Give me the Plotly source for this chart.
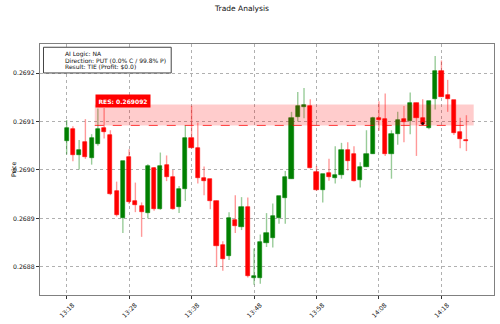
import plotly.graph_objects as go
import pandas as pd

# ---------------- data ----------------
start_time = "2024-01-01 13:18"
n_candles = 65
opens = [0.269059, 0.269084, 0.269030, 0.269057, 0.269024, 0.269054, 0.269086, 0.269073, 0.268956, 0.268901,
         0.269027, 0.268936, 0.268925, 0.268911, 0.269005, 0.268919, 0.269011, 0.268986, 0.268923, 0.268960,
         0.269066, 0.269046, 0.268983, 0.268981, 0.268937, 0.268846, 0.268822, 0.268897, 0.268883, 0.268924,
         0.268777, 0.268777, 0.268850, 0.268860, 0.268901, 0.268943, 0.268982, 0.269110, 0.269130, 0.269132,
         0.268996, 0.268958, 0.268994, 0.268984, 0.268990, 0.269042, 0.269033, 0.268979, 0.269006, 0.269033,
         0.269108, 0.269105, 0.269034, 0.269074, 0.269105, 0.269101, 0.269139, 0.269108, 0.269086, 0.269146,
         0.269205, 0.269154, 0.269144, 0.269079, 0.269062]
highs = [0.269103, 0.269090, 0.269062, 0.269105, 0.269074, 0.269127, 0.269128, 0.269082, 0.268976, 0.269018,
         0.269043, 0.268974, 0.268933, 0.269012, 0.269006, 0.269036, 0.269030, 0.269000, 0.268967, 0.269092,
         0.269132, 0.269098, 0.269007, 0.268981, 0.268937, 0.268853, 0.268913, 0.268948, 0.268944, 0.268943,
         0.268838, 0.268867, 0.268911, 0.268931, 0.268946, 0.268998, 0.269120, 0.269161, 0.269169, 0.269146,
         0.269008, 0.268991, 0.269023, 0.269049, 0.269056, 0.269057, 0.269049, 0.269016, 0.269082, 0.269110,
         0.269142, 0.269158, 0.269082, 0.269120, 0.269132, 0.269160, 0.269139, 0.269146, 0.269142, 0.269235,
         0.269226, 0.269186, 0.269144, 0.269108, 0.269113]
lows = [0.269032, 0.269018, 0.269001, 0.269023, 0.269011, 0.269050, 0.269065, 0.268948, 0.268904, 0.268870,
        0.268930, 0.268913, 0.268862, 0.268900, 0.268916, 0.268918, 0.268977, 0.268918, 0.268911, 0.268936,
        0.269045, 0.268972, 0.268948, 0.268919, 0.268800, 0.268792, 0.268814, 0.268870, 0.268876, 0.268778,
        0.268763, 0.268765, 0.268841, 0.268840, 0.268889, 0.268889, 0.268982, 0.269100, 0.269107, 0.269003,
        0.268957, 0.268933, 0.268978, 0.268972, 0.268982, 0.268999, 0.268976, 0.268964, 0.269006, 0.269033,
        0.269081, 0.269029, 0.268982, 0.269052, 0.269057, 0.269074, 0.269029, 0.269092, 0.269084, 0.269125,
        0.269151, 0.269120, 0.269072, 0.269045, 0.269039]
closes = [0.269086, 0.269030, 0.269042, 0.269027, 0.269066, 0.269084, 0.269079, 0.268950, 0.268907, 0.269018,
          0.268933, 0.268927, 0.268913, 0.269008, 0.268919, 0.269008, 0.268986, 0.268920, 0.268961, 0.269065,
          0.269046, 0.268984, 0.268978, 0.268937, 0.268844, 0.268817, 0.268901, 0.268884, 0.268924, 0.268781,
          0.268782, 0.268851, 0.268870, 0.268905, 0.268946, 0.268985, 0.269107, 0.269132, 0.269134, 0.269004,
          0.268958, 0.268991, 0.268985, 0.268990, 0.269042, 0.269018, 0.268978, 0.269006, 0.269033, 0.269107,
          0.269104, 0.269032, 0.269074, 0.269103, 0.269100, 0.269139, 0.269108, 0.269095, 0.269142, 0.269205,
          0.269151, 0.269146, 0.269076, 0.269064, 0.269059]

res_level = 0.269092
zone_top = 0.269135
zone_start = "2024-01-01 13:22:30"
zone_end = "2024-01-01 14:23:10"
line_end = "2024-01-01 14:22:45"
marker_time = "2024-01-01 14:15"
marker_price = 0.269096

tick_times = ["2024-01-01 13:18", "2024-01-01 13:28", "2024-01-01 13:38", "2024-01-01 13:48",
              "2024-01-01 13:58", "2024-01-01 14:08", "2024-01-01 14:18"]
tick_labels = ["13:18", "13:28", "13:38", "13:48", "13:58", "14:08", "14:18"]
y_ticks = [0.2688, 0.2689, 0.2690, 0.2691, 0.2692]

info_lines = ["AI Logic: NA", "Direction: PUT (0.0% C / 99.8% P)", "Result: TIE (Profit: $0.0)"]
title_text = "Trade Analysis"

# ---------------- build ----------------
times = pd.date_range(start_time, periods=n_candles, freq="min")
FONT = "DejaVu Sans"
GREEN = "#008000"
RED = "#ff0000"

fig = go.Figure()

wick = {"up": ([], []), "down": ([], [])}
body = {"up": ([], [], []), "down": ([], [], [])}
for t, o, h, l, c in zip(times, opens, highs, lows, closes):
    k = "up" if c >= o else "down"
    wick[k][0].extend([t, t, None])
    wick[k][1].extend([l, h, None])
    body[k][0].append(t)
    body[k][1].append(min(o, c))
    body[k][2].append(abs(c - o))

for k, col in (("up", "rgba(0,128,0,0.4)"), ("down", "rgba(255,0,0,0.4)")):
    fig.add_trace(go.Scatter(x=wick[k][0], y=wick[k][1], mode="lines",
                             line=dict(color=col, width=1.4), hoverinfo="skip", showlegend=False))

for k, col in (("up", GREEN), ("down", RED)):
    fig.add_trace(go.Bar(x=body[k][0], base=body[k][1], y=body[k][2], width=40000,
                         marker=dict(color=col, line=dict(color=col, width=0.6)),
                         showlegend=False))

fig.add_trace(go.Scatter(x=[marker_time], y=[marker_price], mode="markers",
                         marker=dict(color="black", size=3), showlegend=False))

# zone + line
fig.add_shape(type="rect", xref="x", yref="y", x0=zone_start, x1=zone_end, y0=res_level, y1=zone_top,
              fillcolor="rgba(255,0,0,0.2)", line=dict(width=0), layer="above")
fig.add_shape(type="line", xref="x", yref="y", x0=zone_start, x1=line_end, y0=res_level, y1=res_level,
              line=dict(color="rgba(255,0,0,0.75)", width=1, dash="dash"), layer="above")

# plot area geometry in px
W, H = 500, 324
L, R, T, B = 40, 5, 44, 26
pw, ph = W - L - R, H - T - B
def px(xp): return (xp - L) / pw
def py(yp): return (H - B - yp) / ph

fig.add_annotation(x=px(95), y=py(102), xref="paper", yref="paper", xanchor="left", yanchor="middle",
                   text="<b>RES: %.6f</b>" % res_level, showarrow=False,
                   font=dict(family=FONT, size=6, color="white"), bgcolor=RED, borderpad=2.5)

# info box
fig.add_shape(type="rect", xref="paper", yref="paper", x0=px(43.5), x1=px(171.5), y0=py(73.3), y1=py(47.3),
              fillcolor="white", line=dict(color="#444", width=1), layer="above")
for i, line in enumerate(info_lines):
    fig.add_annotation(x=px(63), y=py(54 + 6.6 * i), xref="paper", yref="paper", xanchor="left",
                       yanchor="middle", text=line, showarrow=False,
                       font=dict(family=FONT, size=6, color="#111"))

fig.add_annotation(x=(8 - L) / pw, y=py(171), xref="paper", yref="paper", text="Price", textangle=-90,
                   showarrow=False, font=dict(family=FONT, size=6.3, color="#111"))

fig.update_layout(
    width=W, height=H,
    margin=dict(l=L, r=R, t=T, b=B),
    paper_bgcolor="white", plot_bgcolor="white",
    barmode="overlay", bargap=0,
    title=dict(text=title_text, x=242 / W, xanchor="center", y=1 - 8.5 / H, yanchor="middle",
               font=dict(family=FONT, size=7.5, color="#111")),
    font=dict(family=FONT, size=6, color="#111"),
    showlegend=False,
)
fig.update_xaxes(type="date", range=["2024-01-01 13:13:44", "2024-01-01 14:26:25"],
                 tickvals=tick_times, ticktext=tick_labels, tickangle=-45, ticklabelshift=6,
                 showgrid=True, gridcolor="#b0b0b0", griddash="dot", gridwidth=0.8,
                 showline=True, linecolor="#808080", linewidth=1.2, mirror=True,
                 ticks="outside", ticklen=3, tickcolor="#333", tickfont=dict(size=6.2))
fig.update_yaxes(range=[0.268742, 0.26926], tickvals=y_ticks, tickformat=".4f",
                 showgrid=True, gridcolor="#b0b0b0", griddash="dot", gridwidth=0.8,
                 showline=True, linecolor="#808080", linewidth=1.2, mirror=True,
                 ticks="outside", ticklen=3, tickcolor="#333", tickfont=dict(size=6.2))

fig.write_html("out.html")
